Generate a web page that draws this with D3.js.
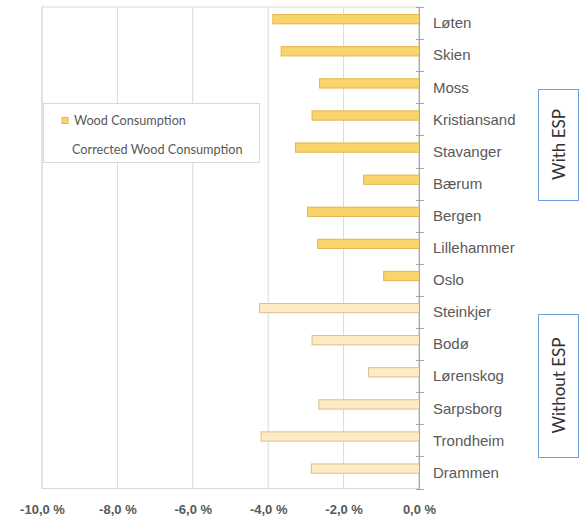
<!DOCTYPE html>
<html><head><meta charset="utf-8">
<script src="https://cdn.jsdelivr.net/npm/d3@7"></script>
<style>body{margin:0;background:#fff;} svg{display:block;font-family:Lato, "Open Sans", sans-serif;}</style>
</head><body>
<svg id="c" width="580" height="523"></svg>
<script>
const cities = ["Løten","Skien","Moss","Kristiansand","Stavanger","Bærum","Bergen","Lillehammer","Oslo","Steinkjer","Bodø","Lørenskog","Sarpsborg","Trondheim","Drammen"];
const groups = ["With ESP","With ESP","With ESP","With ESP","With ESP","With ESP","With ESP","With ESP","With ESP","Without ESP","Without ESP","Without ESP","Without ESP","Without ESP","Without ESP"];
const woodConsumption = [-3.89,-3.67,-2.65,-2.85,-3.29,-1.48,-2.97,-2.70,-0.95,-4.24,-2.85,-1.35,-2.67,-4.20,-2.87];
const correctedWoodConsumption = [0,0,0,0,0,0,0,0,0,0,0,0,0,0,0];
const seriesNames = ["Wood Consumption","Corrected Wood Consumption"];
const xTicks = [-10,-8,-6,-4,-2,0];
const groupBoxes = ["With ESP","Without ESP"];

const svg = d3.select("#c");
const L = 42, R = 419, T = 7, B = 488.5;
const x = d3.scaleLinear().domain([-10,0]).range([L,R]);
const y = d3.scaleBand().domain(cities).range([T,B]).padding(0);
const bw = y.bandwidth();
const y1 = d3.scaleBand().domain(seriesNames).range([bw*0.22, bw*0.86]).padding(0);

const fillFor = g => g === "With ESP" ? "#FAD46B" : "#FCEBC4";
const strokeFor = g => g === "With ESP" ? "#E2B548" : "#D8C08E";

// plot border
svg.append("rect").attr("x",L).attr("y",T).attr("width",R-L).attr("height",B-T)
  .attr("fill","none").attr("stroke","#D9D9D9").attr("stroke-width",1);
// gridlines
svg.append("g").selectAll("line").data(xTicks).join("line")
  .attr("x1",d=>x(d)).attr("x2",d=>x(d)).attr("y1",T).attr("y2",B)
  .attr("stroke","#D9D9D9").attr("stroke-width",1);

// bars
const data = cities.map((c,i)=>({city:c, group:groups[i], vals:[woodConsumption[i], correctedWoodConsumption[i]]}));
const gBars = svg.append("g");
data.forEach(d=>{
  d.vals.forEach((v,k)=>{
    if (v === 0) return;
    gBars.append("rect")
      .attr("x", x(Math.min(v,0))+0.5)
      .attr("y", y(d.city)+y1(seriesNames[k])+0.5)
      .attr("width", Math.abs(x(v)-x(0)))
      .attr("height", y1.bandwidth()-1)
      .attr("fill", fillFor(d.group))
      .attr("stroke", strokeFor(d.group)).attr("stroke-width",1);
  });
});

// category axis at x = 0
const yAxis = d3.axisRight(y).tickSize(0).tickPadding(14);
const ga = svg.append("g").attr("transform",`translate(${x(0)},0)`).call(yAxis);
ga.select(".domain").attr("stroke","#A6A6A6");
ga.selectAll("text").attr("font-size","15px").attr("fill","#595959").attr("dy","0.35em");
// boundary ticks
const bounds = cities.map(c=>y(c)).concat([B]);
svg.append("g").selectAll("line").data(bounds).join("line")
  .attr("x1",x(0)-3).attr("x2",x(0)+5).attr("y1",d=>Math.round(d)+0.5).attr("y2",d=>Math.round(d)+0.5)
  .attr("stroke","#A6A6A6");

// x axis labels
const fmt = d => d3.format(".1f")(d).replace(".",",").replace("−","-") + " %";
const xAxis = d3.axisBottom(x).tickValues(xTicks).tickSize(0).tickPadding(16).tickFormat(fmt);
const gx = svg.append("g").attr("transform",`translate(0,${B})`).call(xAxis);
gx.select(".domain").remove();
gx.selectAll("text").attr("font-size","13px").attr("font-weight","bold").attr("fill","#595959");

// legend
const lg = svg.append("g");
lg.append("rect").attr("x",43.5).attr("y",103.5).attr("width",216).attr("height",59)
  .attr("fill","#fff").attr("stroke","#D9D9D9");
lg.append("rect").attr("x",62).attr("y",117.5).attr("width",6).attr("height",6)
  .attr("fill","#FAD46B").attr("stroke","#E2B548");
lg.selectAll("text.lt").data(seriesNames).join("text").attr("class","lt")
  .attr("x",(d,i)=> i===0 ? 74 : 72).attr("y",(d,i)=> i===0 ? 121 : 150).attr("dy","0.35em")
  .attr("font-size","12.7px").attr("fill","#595959").text(d=>d);

// group boxes
const boxPos = {"With ESP":[89,200],"Without ESP":[314,457]};
groupBoxes.forEach(gname=>{
  const [y0,y2] = boxPos[gname];
  svg.append("rect").attr("x",538.5).attr("y",y0+0.5).attr("width",40).attr("height",y2-y0)
    .attr("fill","#fff").attr("stroke","#6F9FD8").attr("stroke-width",1);
  svg.append("text").attr("transform",`translate(559,${(y0+y2)/2}) rotate(-90)`)
    .attr("text-anchor","middle").attr("dy","0.35em")
    .attr("font-size","17px").attr("fill","#333").text(gname);
});
</script>
</body></html>
